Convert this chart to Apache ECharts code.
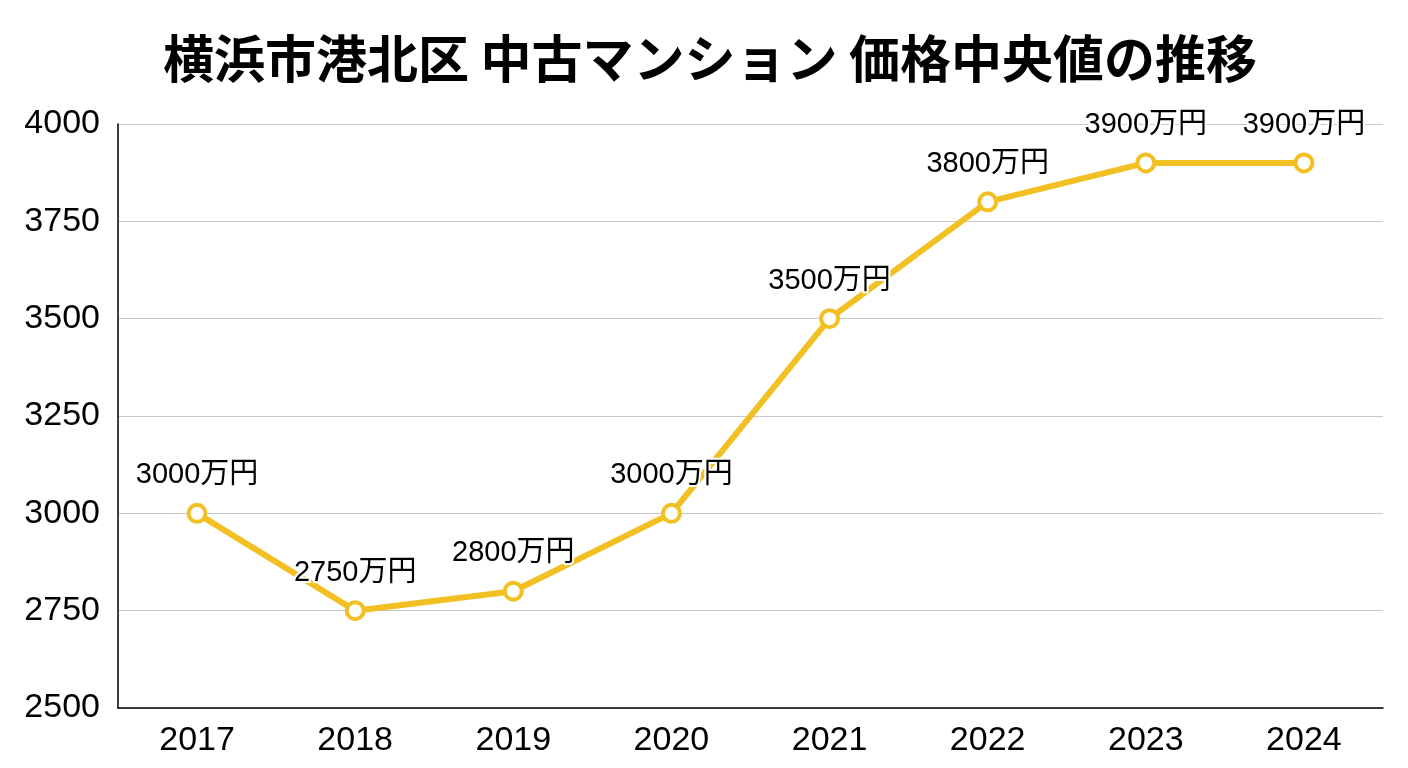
<!DOCTYPE html>
<html>
<head>
<meta charset="utf-8">
<script src="https://cdn.jsdelivr.net/npm/echarts@6/dist/echarts.min.js"></script>
<style>
  html, body { margin: 0; padding: 0; background: #fff; }
  #main { width: 1408px; height: 768px; }
</style>
</head>
<body>
<div id="main"></div>
<script>
// data
var years = ['2017', '2018', '2019', '2020', '2021', '2022', '2023', '2024'];
var medianPrice = [3000, 2750, 2800, 3000, 3500, 3800, 3900, 3900];
var yMin = 2500, yMax = 4000, yStep = 250;

var chart = echarts.init(document.getElementById('main'));
var option = {
  backgroundColor: '#fff',
  title: {
    text: '横浜市港北区 中古マンション 価格中央値の推移',
    left: 705, top: 28, textAlign: 'center',
    textStyle: {
      fontFamily: 'Noto Sans CJK JP', fontWeight: 'bold',
      fontSize: 51, color: '#000'
    }
  },
  grid: { left: 118, right: 25, top: 124, bottom: 60 },
  xAxis: {
    type: 'category',
    data: years,
    boundaryGap: true,
    axisLine: { lineStyle: { color: '#000', width: 1.5 } },
    axisTick: { show: false },
    axisLabel: {
      color: '#000', fontSize: 34, margin: 16,
      fontFamily: 'Liberation Sans'
    }
  },
  yAxis: {
    type: 'value',
    min: yMin, max: yMax, interval: yStep,
    axisLine: { show: true, lineStyle: { color: '#000', width: 1.5 } },
    axisTick: { show: false },
    splitLine: { lineStyle: { color: '#c8c8c8', width: 1.2 } },
    axisLabel: {
      color: '#000', fontSize: 34, margin: 18,
      fontFamily: 'Liberation Sans',
      formatter: function (v) { return String(v); }
    }
  },
  series: [{
    type: 'line',
    data: medianPrice,
    symbol: 'circle',
    symbolSize: 17,
    lineStyle: { color: '#F2C022', width: 6 },
    itemStyle: { color: '#fff', borderColor: '#F2C022', borderWidth: 4 },
    label: {
      show: true,
      position: 'top',
      distance: 13,
      formatter: function (p) { return p.value + '万円'; },
      color: '#000',
      fontSize: 29,
      fontFamily: 'Liberation Sans, Noto Sans CJK JP',
      textBorderColor: '#fff',
      textBorderWidth: 4
    },
    z: 3
  }],
  animation: false
};
chart.setOption(option);
</script>
</body>
</html>
